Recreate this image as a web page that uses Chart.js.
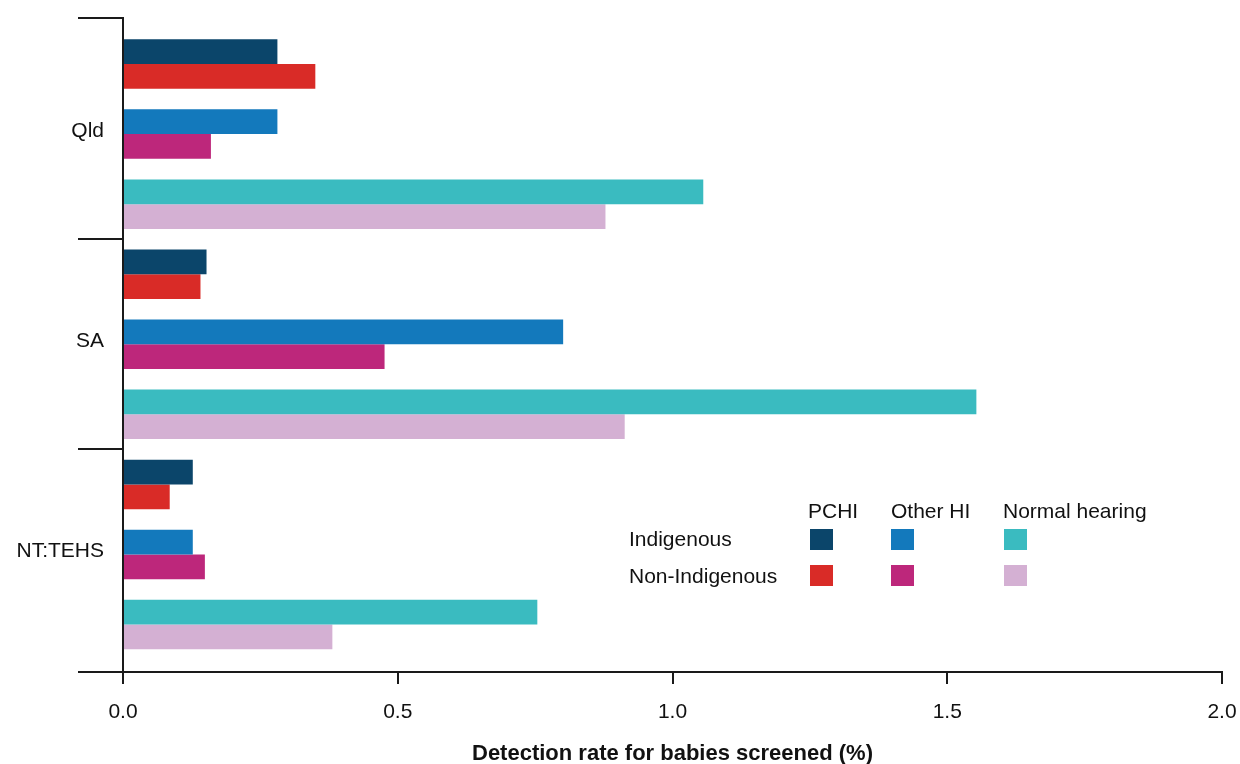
<!DOCTYPE html>
<html>
<head>
<meta charset="utf-8">
<script src="https://cdn.jsdelivr.net/npm/chart.js@4/dist/chart.umd.min.js"></script>
<style>
  html, body { margin: 0; padding: 0; background: #fff; }
  #wrap { position: relative; width: 1240px; height: 764px; font-family: "Liberation Sans", Arial, sans-serif; color: #111; }
  #c { position: absolute; left: 0; top: 0; }
  .lg { position: absolute; font-size: 21px; line-height: 21px; white-space: nowrap; }
  .sw { position: absolute; width: 23px; height: 21px; }
</style>
</head>
<body>
<div id="wrap">
  <canvas id="c" width="1240" height="764"></canvas>
  <div id="legend"></div>
</div>
<script>
// ---- Data ----
const groups = ['Qld', 'SA', 'NT:TEHS'];
const outcomes = ['PCHI', 'Other HI', 'Normal hearing'];
const populations = ['Indigenous', 'Non-Indigenous'];
const xTicks = [0, 0.5, 1.0, 1.5, 2.0];

const indigenousPCHI       = [0.281, 0.152, 0.127];
const indigenousOtherHI    = [0.281, 0.801, 0.127];
const indigenousNormal     = [1.056, 1.553, 0.754];
const nonIndigenousPCHI    = [0.350, 0.141, 0.085];
const nonIndigenousOtherHI = [0.160, 0.476, 0.149];
const nonIndigenousNormal  = [0.878, 0.913, 0.381];

const indigenousColors    = ['#0b456a', '#1379bc', '#3abbc0'];
const nonIndigenousColors = ['#d92b27', '#bd277b', '#d4b0d3'];

// ---- Build rows: each group has 3 outcome rows ----
const indSeries = [indigenousPCHI, indigenousOtherHI, indigenousNormal];
const nonSeries = [nonIndigenousPCHI, nonIndigenousOtherHI, nonIndigenousNormal];
const indData = [], nonData = [], indBg = [], nonBg = [];
groups.forEach((g, gi) => {
  outcomes.forEach((o, oi) => {
    const row = gi * outcomes.length + oi;
    indData.push({ x: indSeries[oi][gi], y: row });
    nonData.push({ x: nonSeries[oi][gi], y: row });
    indBg.push(indigenousColors[oi]);
    nonBg.push(nonIndigenousColors[oi]);
  });
});
const nRows = groups.length * outcomes.length;
const yMin = -0.657, yMax = nRows - 1 + 0.678;
// tick positions: group boundaries (marks) and group centres (labels)
const yTickVals = [yMin];
groups.forEach((g, gi) => {
  yTickVals.push(gi * 3 + 1);
  yTickVals.push(gi < groups.length - 1 ? gi * 3 + 2.5 : yMax);
});

Chart.defaults.font.family = '"Liberation Sans", Arial, sans-serif';
Chart.defaults.font.size = 21;
Chart.defaults.color = '#111';

new Chart(document.getElementById('c'), {
  type: 'bar',
  data: {
    datasets: [
      { label: populations[0], data: indData, backgroundColor: indBg },
      { label: populations[1], data: nonData, backgroundColor: nonBg }
    ]
  },
  options: {
    indexAxis: 'y',
    responsive: false,
    animation: false,
    categoryPercentage: 0.7065,
    barPercentage: 1.0,
    layout: { padding: { top: 18, right: 18, left: 0, bottom: 0 } },
    plugins: { legend: { display: false }, tooltip: { enabled: false } },
    scales: {
      y: {
        type: 'linear',
        reverse: true,
        offset: false,
        z: 1,
        min: yMin,
        max: yMax,
        afterBuildTicks: s => { s.ticks = yTickVals.map(v => ({ value: v })); },
        afterFit: s => { s.width = 123; s.paddingTop = 0; s.paddingBottom = 0; },
        border: { display: true, color: '#1a1a1a', width: 2 },
        grid: {
          offset: false,
          drawOnChartArea: false,
          drawTicks: true,
          tickLength: 45,
          lineWidth: 2,
          color: ctx => (ctx.index % 2 === 0 ? '#1a1a1a' : 'rgba(0,0,0,0)')
        },
        ticks: {
          autoSkip: false,
          padding: -26,
          labelOffset: -3,
          callback: (v, i) => (i % 2 === 1 ? groups[(i - 1) / 2] : '')
        }
      },
      x: {
        type: 'linear',
        offset: false,
        min: 0,
        max: 2,
        afterBuildTicks: s => { s.ticks = xTicks.map(v => ({ value: v })); },
        afterFit: s => { s.height = 92; s.paddingLeft = 0; s.paddingRight = 0; },
        border: { display: true, color: '#1a1a1a', width: 2 },
        grid: { offset: false, drawOnChartArea: false, drawTicks: true, tickLength: 12, lineWidth: 2, color: '#1a1a1a' },
        ticks: { padding: 16, callback: v => Number(v).toFixed(1) },
        title: {
          display: true,
          text: 'Detection rate for babies screened (%)',
          font: { weight: 'bold', size: 22, lineHeight: 1 },
          color: '#111',
          padding: { top: 0, bottom: -1 }
        }
      }
    }
  }
});

// ---- Legend (HTML) ----
const legend = document.getElementById('legend');
const colX = [808, 891, 1003];
const swX = [810, 891, 1004];
const rowTop = [528, 565];
const swTop = [529, 565];
outcomes.forEach((o, i) => {
  const d = document.createElement('div');
  d.className = 'lg'; d.textContent = o;
  d.style.left = colX[i] + 'px'; d.style.top = '500px';
  legend.appendChild(d);
});
populations.forEach((p, r) => {
  const d = document.createElement('div');
  d.className = 'lg'; d.textContent = p;
  d.style.left = '629px'; d.style.top = rowTop[r] + 'px';
  legend.appendChild(d);
  const cols = r === 0 ? indigenousColors : nonIndigenousColors;
  cols.forEach((c, i) => {
    const s = document.createElement('div');
    s.className = 'sw'; s.style.background = c;
    s.style.left = swX[i] + 'px'; s.style.top = swTop[r] + 'px';
    legend.appendChild(s);
  });
});
</script>
</body>
</html>
